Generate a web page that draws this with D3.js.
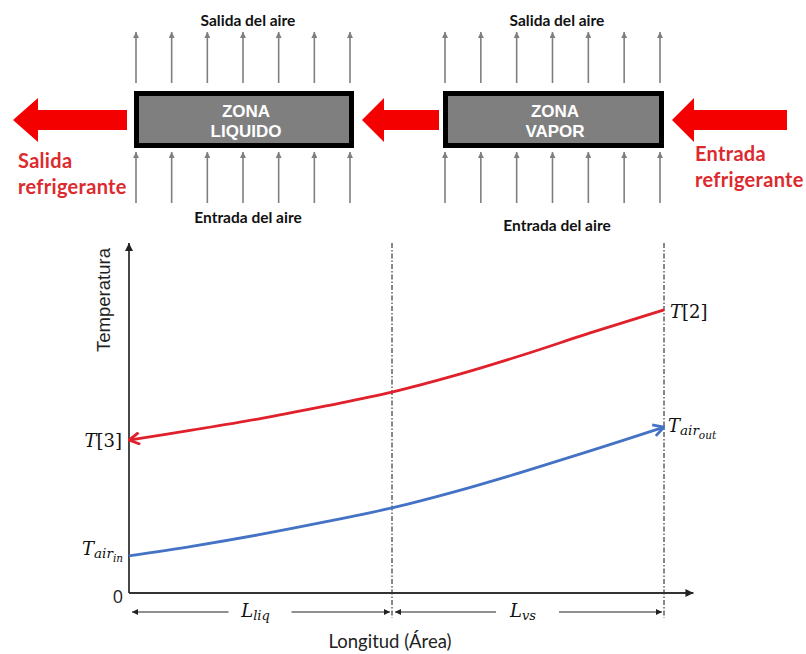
<!DOCTYPE html>
<html>
<head>
<meta charset="utf-8">
<script src="https://cdn.jsdelivr.net/npm/d3@7"></script>
<style>
  html, body { margin: 0; padding: 0; background: #fff; }
  svg { display: block; }
</style>
</head>
<body>
<svg id="chart" width="806" height="654"></svg>
<script>
// Position along the condenser (fraction of total length / area)
const positions = [0, 0.12, 0.241, 0.366, 0.4916, 0.613, 0.736, 0.862, 1];
// Refrigerant temperature (arbitrary units), from outlet T[3] to inlet T[2]
const refrigerantTemp = [43.7, 46.6, 49.7, 53.4, 57.4, 62.3, 68.0, 74.3, 80.9];
// Air temperature (arbitrary units), from Tair_in to Tair_out
const airTemp = [10.6, 13.4, 16.6, 20.3, 24.3, 29.1, 34.6, 40.6, 47.4];
// Boundary between liquid zone and vapour zone
const zoneBoundary = [0.4916];
// Zone names shown in the schematic
const zoneNames = [["ZONA", "LIQUIDO"], ["ZONA", "VAPOR"]];

const svg = d3.select("#chart");
const defs = svg.append("defs");

function marker(id, color, w, h) {
  defs.append("marker")
    .attr("id", id).attr("viewBox", "0 0 10 10")
    .attr("refX", 10).attr("refY", 5)
    .attr("markerUnits", "userSpaceOnUse")
    .attr("markerWidth", w).attr("markerHeight", h)
    .attr("orient", "auto-start-reverse")
    .append("path").attr("d", "M0,0L10,5L0,10Z").attr("fill", color);
}
marker("gray-head", "#7f7f7f", 6, 6);
marker("black-head", "#222", 9, 8);
marker("dim-head", "#222", 8, 6);
function openHead(id, color) {
  defs.append("marker")
    .attr("id", id).attr("viewBox", "0 0 12 12")
    .attr("refX", 11).attr("refY", 6)
    .attr("markerUnits", "userSpaceOnUse")
    .attr("markerWidth", 14).attr("markerHeight", 14)
    .attr("orient", "auto-start-reverse")
    .append("path").attr("d", "M2,1L11,6L2,11")
    .attr("fill", "none").attr("stroke", color).attr("stroke-width", 2.4);
}
openHead("open-red", "#e0202a");
openHead("open-blue", "#4472c4");

// ---------- Schematic of the two zones ----------
const sansBold = "Lato, 'Liberation Sans', sans-serif";
const boxes = [{x0: 134, x1: 354, cx: 246, entY: 218}, {x0: 443, x1: 664, cx: 555, entY: 226}];
const boxTop = 91, boxBottom = 148;

boxes.forEach((b, i) => {
  // air flow arrows through the coil
  const ax = d3.scaleLinear().domain([0, 6]).range([b.x0 + 2, b.x1 - 4]);
  d3.range(7).forEach(k => {
    [[83, 32], [203, 152]].forEach(([y0, y1]) => {
      svg.append("line")
        .attr("x1", ax(k)).attr("x2", ax(k)).attr("y1", y0).attr("y2", y1)
        .attr("stroke", "#7f7f7f").attr("stroke-width", 1.6)
        .attr("marker-end", "url(#gray-head)");
    });
  });
  svg.append("rect")
    .attr("x", b.x0 + 2.5).attr("y", boxTop + 2.5)
    .attr("width", b.x1 - b.x0 - 5).attr("height", boxBottom - boxTop - 5)
    .attr("fill", "#7f7f7f").attr("stroke", "#000").attr("stroke-width", 5);
  zoneNames[i].forEach((t, j) => {
    svg.append("text")
      .attr("x", b.cx).attr("y", 117 + j * 20)
      .attr("text-anchor", "middle")
      .attr("font-family", "'Liberation Sans Narrow', 'Liberation Sans', Arial, sans-serif")
      .attr("font-weight", "bold").attr("font-size", 17)
      .attr("fill", "#fff").text(t);
  });
  svg.append("text")
    .attr("x", b.cx + 2).attr("y", 26).attr("text-anchor", "middle")
    .attr("font-family", sansBold).attr("font-weight", "bold")
    .attr("font-size", 15.5).attr("fill", "#111").text("Salida del aire");
  svg.append("text")
    .attr("x", b.cx + 2).attr("y", b.entY + 5).attr("text-anchor", "middle")
    .attr("font-family", sansBold).attr("font-weight", "bold")
    .attr("font-size", 15.5).attr("fill", "#111").text("Entrada del aire");
});

// refrigerant flow arrows (right to left)
const flowArrows = [
  {tip: 13, base: 38, tail: 127},
  {tip: 362, base: 384, tail: 439},
  {tip: 672, base: 694, tail: 787}
];
flowArrows.forEach(a => {
  const pts = [[a.tip, 120], [a.base, 98], [a.base, 110], [a.tail, 110],
               [a.tail, 130], [a.base, 130], [a.base, 142]];
  svg.append("path").attr("d", d3.line()(pts) + "Z").attr("fill", "#f40000");
});

const redText = "#dc2a2e";
[["Salida", 18, 168], ["refrigerante", 18, 194],
 ["Entrada", 695, 161], ["refrigerante", 695, 187]].forEach(([t, px, py]) => {
  svg.append("text").attr("x", px).attr("y", py)
    .attr("font-family", sansBold).attr("font-weight", "bold")
    .attr("font-size", 20).attr("letter-spacing", 0.3)
    .attr("fill", redText).text(t);
});

// ---------- Temperature profile chart ----------
const x = d3.scaleLinear().domain([0, 1]).range([129, 664]);
const y = d3.scaleLinear().domain([0, 100]).range([593, 243]);

// dash-dot zone boundaries
[zoneBoundary[0], 1].forEach(v => {
  svg.append("line")
    .attr("x1", x(v)).attr("x2", x(v)).attr("y1", y(100)).attr("y2", 618)
    .attr("stroke", "#111").attr("stroke-width", 1)
    .attr("stroke-dasharray", "5,2,1.5,2");
});

// axes
svg.append("line").attr("x1", x(0)).attr("x2", x(0)).attr("y1", y(0)).attr("y2", y(100))
  .attr("stroke", "#333").attr("stroke-width", 1.8).attr("marker-end", "url(#black-head)");
svg.append("line").attr("x1", x(0)).attr("x2", x(1.055)).attr("y1", y(0)).attr("y2", y(0))
  .attr("stroke", "#333").attr("stroke-width", 1.8).attr("marker-end", "url(#black-head)");

svg.append("text").attr("x", x(0) - 6).attr("y", y(0) + 10)
  .attr("text-anchor", "end").attr("font-family", "'Open Sans', sans-serif")
  .attr("font-size", 18).attr("fill", "#222").text("0");

svg.append("text")
  .attr("transform", "translate(110,300) rotate(-90)")
  .attr("text-anchor", "middle").attr("font-family", "'Liberation Sans', Arial, sans-serif")
  .attr("font-size", 18.5).attr("fill", "#222").text("Temperatura");

svg.append("text").attr("x", 390).attr("y", 648).attr("text-anchor", "middle")
  .attr("font-family", "Lato, sans-serif").attr("font-size", 18.5)
  .attr("fill", "#222").text("Longitud (Área)");

// curves
const line = d3.line().x((d, i) => x(positions[i])).y(d => y(d)).curve(d3.curveCatmullRom);
svg.append("path").datum(refrigerantTemp).attr("d", line)
  .attr("fill", "none").attr("stroke", "#e0202a").attr("stroke-width", 2.8)
  .attr("marker-start", "url(#open-red)");
svg.append("path").datum(airTemp).attr("d", line)
  .attr("fill", "none").attr("stroke", "#4472c4").attr("stroke-width", 2.8)
  .attr("marker-end", "url(#open-blue)");

// math labels
const serif = "'DejaVu Serif', 'Liberation Serif', serif";
function mathLabel(px, py, anchor, parts) {
  const t = svg.append("text").attr("x", px).attr("y", py).attr("text-anchor", anchor)
    .attr("font-family", serif).attr("fill", "#111");
  parts.forEach(p => {
    t.append("tspan").attr("font-size", p.s).attr("font-style", p.i ? "italic" : "normal")
      .attr("dy", p.dy || 0).text(p.t);
  });
  return t;
}
mathLabel(670, y(refrigerantTemp[8]) + 8, "start",
  [{t: "T", s: 18, i: true}, {t: "[2]", s: 18}]);
mathLabel(122, y(refrigerantTemp[0]) + 7, "end",
  [{t: "T", s: 18, i: true}, {t: "[3]", s: 18}]);
mathLabel(123, y(airTemp[0]) - 1, "end",
  [{t: "T", s: 18, i: true}, {t: "air", s: 13.5, i: true, dy: 3}, {t: "in", s: 10.5, i: true, dy: 4}]);
mathLabel(668, y(airTemp[8]) + 5, "start",
  [{t: "T", s: 18, i: true}, {t: "air", s: 13.5, i: true, dy: 3}, {t: "out", s: 10.5, i: true, dy: 4}]);

// length dimension arrows
const dimY = 612;
const dims = [
  {a: 0, b: zoneBoundary[0], name: "liq"},
  {a: zoneBoundary[0], b: 1, name: "vs"}
];
dims.forEach(d => {
  const x0 = x(d.a) + 3, x1 = x(d.b) - 2, mid = (x(d.a) + x(d.b)) / 2;
  svg.append("line").attr("x1", mid - 32).attr("x2", x0).attr("y1", dimY).attr("y2", dimY)
    .attr("stroke", "#222").attr("stroke-width", 1).attr("marker-end", "url(#dim-head)");
  svg.append("line").attr("x1", mid + 31).attr("x2", x1).attr("y1", dimY).attr("y2", dimY)
    .attr("stroke", "#222").attr("stroke-width", 1).attr("marker-end", "url(#dim-head)");
  mathLabel(mid - 5, dimY + 5, "middle",
    [{t: "L", s: 18, i: true}, {t: d.name, s: 13, i: true, dy: 3}]);
});
</script>
</body>
</html>
